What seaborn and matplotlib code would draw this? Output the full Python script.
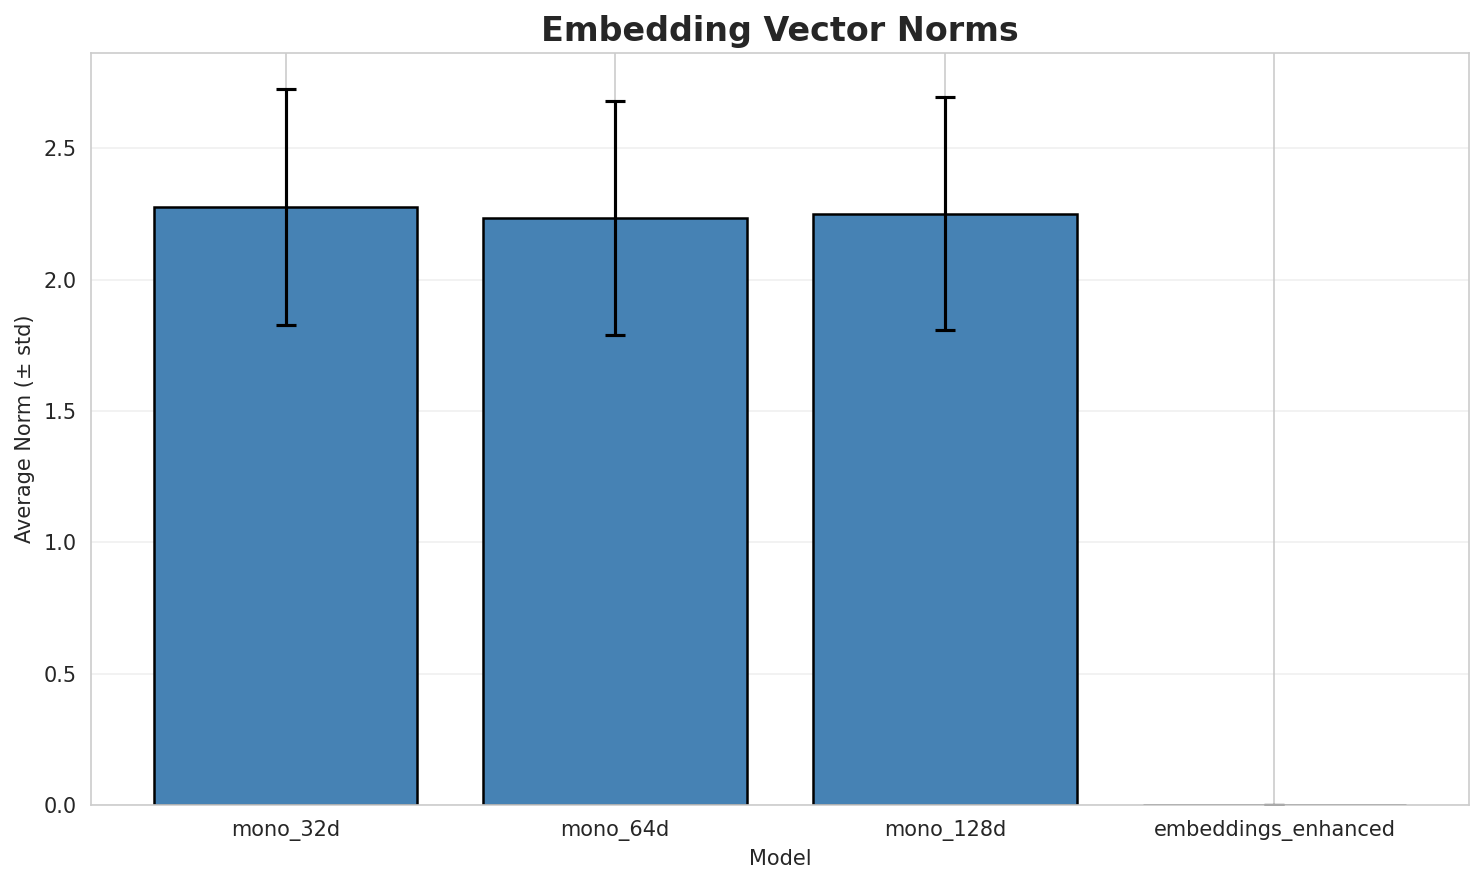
import numpy as np
import pandas as pd
import matplotlib
matplotlib.use('Agg')
import matplotlib.pyplot as plt
import seaborn as sns

models = ['mono_32d', 'mono_64d', 'mono_128d', 'embeddings_enhanced']
mean_norms = [2.276, 2.234, 2.250, 0.0]
std_norms = [0.450, 0.445, 0.443, 0.0]

df = pd.DataFrame({'Model': models, 'Norm': mean_norms, 'Std': std_norms})

sns.set_style('whitegrid')
fig, ax = plt.subplots(figsize=(1484 / 150, 885 / 150), dpi=150)

sns.barplot(data=df, x='Model', y='Norm', color='steelblue', saturation=1,
            edgecolor='black', linewidth=1.2, errorbar=None, width=0.8, ax=ax)
ax.errorbar(np.arange(len(models)), df['Norm'], yerr=df['Std'], fmt='none',
            ecolor='black', capsize=5, elinewidth=1.5, capthick=1.5)

ax.set_xlim(-0.59, len(models) - 0.41)
ax.set_ylim(0, None)
ax.xaxis.grid(True)
ax.yaxis.grid(True, alpha=0.3)
ax.set_title('Embedding Vector Norms', fontsize=16, fontweight='bold')
ax.set_xlabel('Model')
ax.set_ylabel('Average Norm (± std)')

fig.subplots_adjust(left=91 / 1484, right=1469 / 1484, top=1 - 53 / 885, bottom=1 - 805 / 885)
plt.savefig('out.png', dpi=150)
